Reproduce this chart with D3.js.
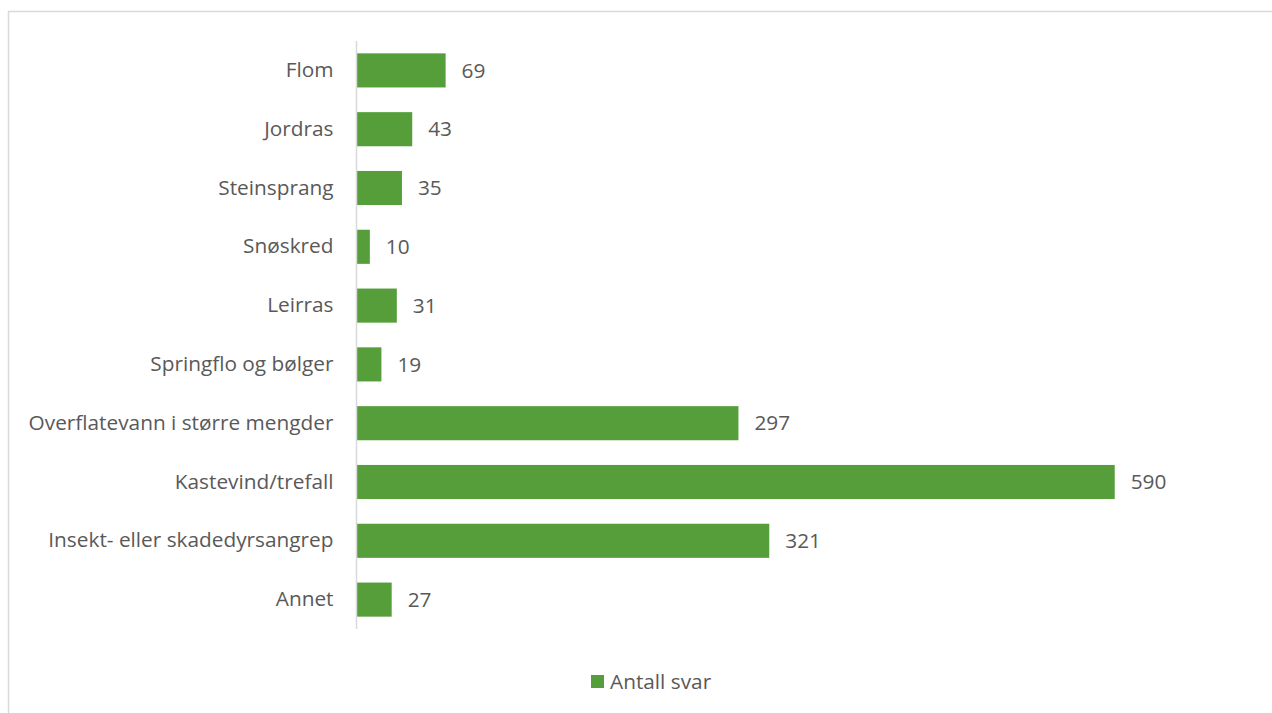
<!DOCTYPE html>
<html>
<head>
<meta charset="utf-8">
<script src="https://cdn.jsdelivr.net/npm/d3@7"></script>
<style>
  body { margin: 0; background: #fff; }
  text { font-family: "Open Sans", sans-serif; fill: #595959; }
</style>
</head>
<body>
<svg id="chart-svg" width="1272" height="713"></svg>
<script>
let categories = ["Flom", "Jordras", "Steinsprang", "Snøskred", "Leirras", "Springflo og bølger",
    "Overflatevann i større mengder", "Kastevind/trefall", "Insekt- eller skadedyrsangrep", "Annet"];
let antallSvar = [69, 43, 35, 10, 31, 19, 297, 590, 321, 27];
let seriesName = "Antall svar";

let svg = d3.select('#chart-svg');
let barColor = "#559e3a";

// chart frame
svg.append("rect")
    .attr("x", 8.5).attr("y", 11.5)
    .attr("width", 1280).attr("height", 720)
    .attr("fill", "none")
    .attr("stroke", "#d9d9d9")
    .attr("stroke-width", 1.5);

let x = d3.scaleLinear().domain([0, 700]).range([357, 1256]);
let y = d3.scaleBand().domain(categories).range([41, 629]).paddingInner(0.42).paddingOuter(0.21);

let data = categories.map((c, i) => ({label: c, value: antallSvar[i]}));

svg.selectAll("rect.bar")
    .data(data)
    .enter()
    .append("rect")
    .attr("class", "bar")
    .attr("x", x(0))
    .attr("y", d => y(d.label))
    .attr("width", d => x(d.value) - x(0))
    .attr("height", y.bandwidth())
    .attr("fill", barColor);

// category axis
let yAxis = svg.append("g")
    .attr("transform", "translate(356.5,0)")
    .call(d3.axisLeft(y).tickSize(0).tickPadding(23));
yAxis.select(".domain").attr("stroke", "#d9d9d9").attr("stroke-width", 1.5)
    .attr("d", "M0,41V629");
yAxis.selectAll("text")
    .attr("font-size", "20.8px")
    .attr("font-family", null)
    .attr("fill", "#595959");

svg.selectAll("text.value")
    .data(data)
    .enter()
    .append("text")
    .attr("class", "value")
    .attr("x", d => x(d.value) + 16)
    .attr("y", d => y(d.label) + y.bandwidth() / 2)
    .attr("dy", "0.35em")
    .attr("font-size", "20.8px")
    .text(d => d.value);

// legend
let legend = svg.append("g").attr("transform", "translate(591,675)");
legend.append("rect").attr("width", 13).attr("height", 13).attr("fill", barColor);
legend.append("text")
    .attr("x", 19).attr("y", 6.5).attr("dy", "0.35em")
    .attr("font-size", "20.8px")
    .text(seriesName);
</script>
</body>
</html>
